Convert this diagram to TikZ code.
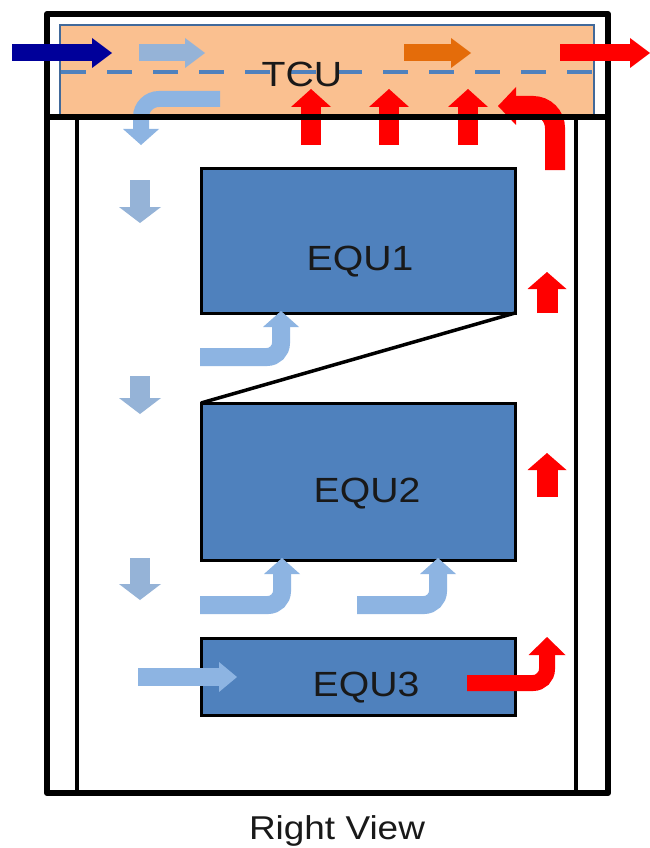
\documentclass[tikz,border=0pt]{standalone}
\usepackage{fontspec}
\usepackage{graphicx}
\setmainfont{Liberation Sans}
\usetikzlibrary{arrows.meta}
\definecolor{peach}{HTML}{FAC090}
\definecolor{tcuborder}{HTML}{41699A}
\definecolor{dashblue}{HTML}{4F81BD}
\definecolor{equblue}{HTML}{4F81BD}
\definecolor{navyarrow}{HTML}{00009A}
\definecolor{paleblue}{HTML}{95B3D7}
\definecolor{lightblue}{HTML}{8DB4E2}
\definecolor{orangearrow}{HTML}{E46C0A}
\definecolor{redarrow}{HTML}{FF0000}
\newcommand{\sxtext}[1]{\scalebox{1.12}[1]{#1}}
\begin{document}
\begin{tikzpicture}[x=1pt,y=-1pt,
  fat/.style n args={3}{line width=#1, -{Triangle[width=#2,length=#3,line width=0pt]}},
  toparrow/.style={fat={17pt}{30pt}{20pt}},
  uparrow/.style={fat={20pt}{40pt}{18pt}},
  downarrow/.style={draw=paleblue, fat={20pt}{42pt}{16pt}},
  bentarrow/.style={draw=lightblue, rounded corners=14pt, fat={18pt}{36pt}{16pt}},
  frameline/.style={draw=black, line width=6pt, line join=round},
  innerline/.style={draw=black, line width=4.5pt},
  equbox/.style={draw=black, line width=3pt, fill=equblue, inner sep=0pt, outer sep=0pt, minimum width=314pt},
  lbl/.style={font=\fontsize{35}{40}\selectfont, text=black!90, anchor=base, inner sep=0pt}
]
\useasboundingbox[fill=white] (0,0) rectangle (650,848);

% TCU box
\draw[fill=peach, draw=tcuborder, line width=2pt] (60,25) rectangle (594,117);
\draw[dashblue, line width=4pt, dash pattern=on 25pt off 21pt] (61,72) -- (594,72);

% arrows inside TCU (under the frame line)
\draw[bentarrow, rounded corners=18pt, fat={16pt}{36pt}{16pt}] (220,99) -- (141,99) -- (141,145);
\foreach \xx in {311,389,468}{
  \draw[redarrow, uparrow] (\xx,145) -- (\xx,89);
}
\draw[redarrow, rounded corners=22pt, fat={20pt}{38pt}{18pt}] (555,170) -- (555,106) -- (498,106);

% frame
\draw[frameline] (47,14) rectangle (608,793);
\draw[frameline] (47,117) -- (608,117);
\draw[innerline] (77,117) -- (77,793);
\draw[innerline] (576,117) -- (576,793);

% equipment boxes
\node[equbox, minimum height=145pt] (e1) at (358,240.5) {};
\node[equbox, minimum height=157pt] (e2) at (358,481.5) {};
\node[equbox, minimum height=77pt]  (e3) at (358,676.5) {};
\draw[black, line width=3.5pt] (e1.south east) -- (e2.north west);

\node[lbl] (l1) at (360,270.5) {\sxtext{EQU1}};
\node[lbl] (l2) at (367,502.5) {\sxtext{EQU2}};
\node[lbl] (l3) at (366,696.5) {\sxtext{EQU3}};

% down arrows on the left
\draw[downarrow] (140,180) -- (140,223);
\draw[downarrow] (140,376) -- (140,414);
\draw[downarrow] (140,558) -- (140,600);

% bent light blue arrows
\draw[bentarrow] (200,357) -- (281,357) -- (281,311);
\draw[bentarrow] (200,605) -- (282,605) -- (282,558);
\draw[bentarrow] (357,605) -- (438,605) -- (438,558);
\draw[draw=lightblue, fat={18pt}{30pt}{18pt}] (138,677) -- (237,677);

% red arrows on the right
\draw[redarrow, rounded corners=14pt, fat={16pt}{37pt}{18pt}] (467,683) -- (547,683) -- (547,637);
\draw[redarrow, fat={21pt}{39pt}{17pt}] (547,313) -- (547,272);
\draw[redarrow, fat={21pt}{39pt}{17pt}] (547,497) -- (547,453);

% top row arrows
\draw[navyarrow, toparrow] (12,53) -- (112,53);
\draw[paleblue, toparrow] (139,53) -- (205,53);
\draw[orangearrow, toparrow] (404,53) -- (471,53);
\draw[redarrow, toparrow] (560,53) -- (650,53);

% labels
\node[lbl] (tcu) at (302,87) {\sxtext{TCU}};
\node[lbl, font=\fontsize{33}{38}\selectfont] (rv) at (337,839) {\sxtext{Right View}};
\end{tikzpicture}
\end{document}
